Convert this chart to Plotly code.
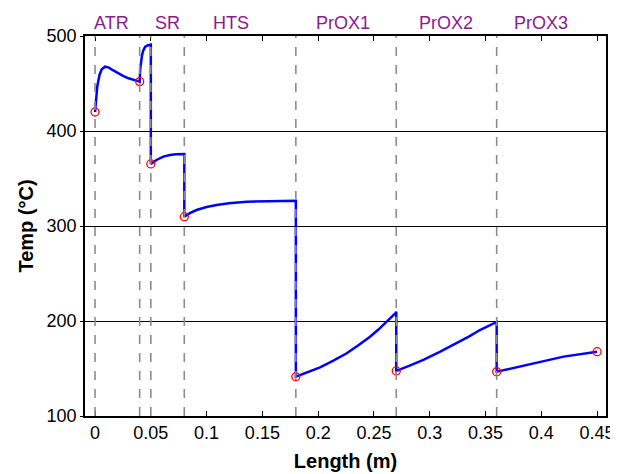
import plotly.graph_objects as go

# Temperature profile
length_m = [
    0.000, 0.001, 0.002, 0.004, 0.006, 0.009, 0.012, 0.016, 0.020, 0.025, 0.030, 0.035, 0.040,
    0.0405, 0.041, 0.042, 0.043, 0.0448, 0.047, 0.0493, 0.050,
    0.050, 0.055, 0.0612, 0.067, 0.0725, 0.0792, 0.080,
    0.080, 0.085, 0.091, 0.100, 0.109, 0.120, 0.136, 0.155, 0.179, 0.180,
    0.180, 0.190, 0.2017, 0.2136, 0.2256, 0.2360, 0.2465, 0.2540, 0.2615, 0.2698, 0.270,
    0.270, 0.282, 0.2943, 0.309, 0.3242, 0.335, 0.345, 0.3594, 0.360,
    0.360, 0.380, 0.399, 0.420, 0.450,
]
temp_c = [
    420.0, 436.0, 447.0, 459.0, 465.0, 467.7, 467.0, 464.0, 461.0, 458.0, 455.5, 453.5, 452.0,
    465.0, 473.0, 479.0, 484.0, 488.5, 490.0, 491.0, 491.0,
    365.3, 369.5, 373.0, 374.8, 375.6, 375.8, 375.8,
    309.8, 313.5, 316.8, 320.0, 322.0, 324.0, 325.6, 326.3, 326.6, 326.6,
    141.4, 146.0, 151.2, 158.3, 166.0, 174.5, 183.5, 191.0, 199.3, 208.7, 210.0,
    147.4, 153.0, 159.0, 167.5, 176.5, 183.5, 190.5, 198.6, 199.0,
    146.6, 152.0, 157.2, 162.5, 167.7,
]

# Section inlet/outlet markers
marker_x = [0.00, 0.04, 0.05, 0.08, 0.18, 0.27, 0.36, 0.45]
marker_y = [420.0, 452.0, 365.3, 309.8, 141.4, 147.4, 146.6, 167.7]

# Section boundaries and labels
boundaries = [0.00, 0.04, 0.05, 0.08, 0.18, 0.27, 0.36]
section_names = ["ATR", "SR", "HTS", "PrOX1", "PrOX2", "PrOX3"]
section_label_x = [0.015, 0.065, 0.122, 0.222, 0.315, 0.400]

x_ticks = [0, 0.05, 0.1, 0.15, 0.2, 0.25, 0.3, 0.35, 0.4, 0.45]
x_tick_text = ["0", "0.05", "0.1", "0.15", "0.2", "0.25", "0.3", "0.35", "0.4", "0.45"]
y_ticks = [100, 200, 300, 400, 500]

fig = go.Figure()
fig.add_trace(go.Scatter(x=length_m, y=temp_c, mode="lines",
                         line=dict(color="#0000ff", width=2.5), showlegend=False))
fig.add_trace(go.Scatter(x=marker_x, y=marker_y, mode="markers",
                         marker=dict(symbol="circle-open", color="#ff0000", size=8,
                                     line=dict(width=1.3, color="#ff0000")),
                         showlegend=False, cliponaxis=False))

for b in boundaries:
    fig.add_shape(type="line", x0=b, x1=b, y0=0, y1=1, xref="x", yref="paper",
                  line=dict(color="#8c8c8c", width=1.6, dash="dash"), layer="above")

for name, lx in zip(section_names, section_label_x):
    fig.add_annotation(x=lx, y=1.0, xref="x", yref="paper", text=name, showarrow=False,
                       yanchor="bottom", yshift=1,
                       font=dict(family="Liberation Sans, Arial", size=18, color="#8b1a8b"))

fig.update_layout(
    template="none",
    width=618, height=474,
    margin=dict(l=77, r=20, t=28, b=66, autoexpand=False),
    plot_bgcolor="white", paper_bgcolor="white",
    font=dict(family="Liberation Sans, Arial", size=18, color="black"),
    xaxis=dict(range=[-0.009, 0.458], tickvals=x_ticks, ticktext=x_tick_text, automargin=False,
               showgrid=False, zeroline=False, showline=True, linecolor="black", linewidth=1.5,
               mirror="ticks", ticks="inside", ticklen=5, tickcolor="black",
               title=dict(text="<b>Length (m)</b>", font=dict(size=20), standoff=12)),
    yaxis=dict(range=[100, 500], tickvals=y_ticks, automargin=False,
               showgrid=True, gridcolor="black", gridwidth=1, zeroline=False,
               showline=True, linecolor="black", linewidth=1.5, mirror=True,
               ticks="outside", ticklen=3, tickcolor="black",
               title=dict(text="<b>Temp (°C)</b>", font=dict(size=20), standoff=8)),
)

fig.write_html("out.html")
